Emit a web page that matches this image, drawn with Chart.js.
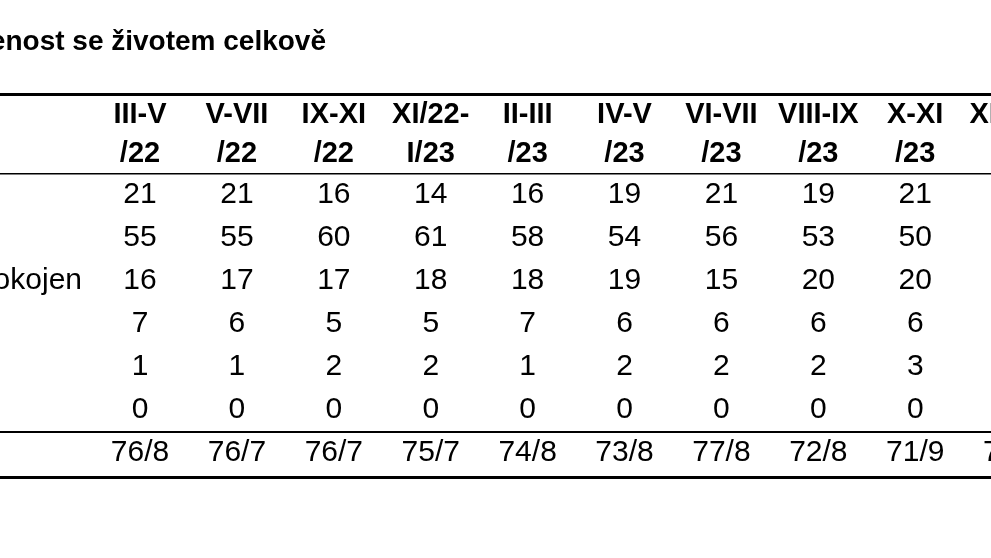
<!DOCTYPE html>
<html>
<head>
<meta charset="utf-8">
<script src="https://cdn.jsdelivr.net/npm/chart.js@4.4.0/dist/chart.umd.min.js"></script>
<style>
  html, body { margin: 0; padding: 0; background: #fff; }
  #box { width: 991px; height: 558px; }
</style>
</head>
<body>
<div id="box"><canvas id="tabulka"></canvas></div>
<script>
// Data tabulky
const titulek = "Spokojenost se životem celkově";
const obdobiRadek1 = ["III-V", "V-VII", "IX-XI", "XI/22-", "II-III", "IV-V", "VI-VII", "VIII-IX", "X-XI", "XII/23-"];
const obdobiRadek2 = ["/22", "/22", "/22", "I/23", "/23", "/23", "/23", "/23", "/23", "/24"];
const radky = ["velmi spokojen", "spíše spokojen", "ani spokojen, ani nespokojen", "spíše nespokojen", "velmi nespokojen", "neví"];
const hodnoty = [
    [21, 21, 16, 14, 16, 19, 21, 19, 21, 20],
    [55, 55, 60, 61, 58, 54, 56, 53, 50, 54],
    [16, 17, 17, 18, 18, 19, 15, 20, 20, 18],
    [7, 6, 5, 5, 7, 6, 6, 6, 6, 6],
    [1, 1, 2, 2, 1, 2, 2, 2, 3, 2],
    [0, 0, 0, 0, 0, 0, 0, 0, 0, 0],
];
const souhrn = ["76/8", "76/7", "76/7", "75/7", "74/8", "73/8", "77/8", "72/8", "71/9", "74/8"];

// Body pro každou buňku (neviditelné, text kreslí plugin)
const body = [];
hodnoty.forEach((r, ri) => r.forEach((v, ci) => body.push({ x: ci, y: ri, v: v })));

const tabulkaPlugin = {
    id: "tabulka",
    afterDraw(chart) {
        const ctx = chart.ctx;
        const sx = chart.scales.x, sy = chart.scales.y;
        const X = (i) => sx.getPixelForValue(i);
        const Y = (i) => sy.getPixelForValue(i);
        ctx.save();
        ctx.fillStyle = "#000";
        ctx.textBaseline = "middle";

        // titulek (useknutý vlevo)
        ctx.font = "bold 28px 'Liberation Sans', Arial, sans-serif";
        ctx.textAlign = "right";
        ctx.fillText(titulek, 326, Y(-3.56));

        // čáry
        const cara = (y, w) => {
            ctx.fillRect(0, Math.round(Y(y) - w / 2), chart.width, w);
        };
        cara(-2.33, 3);
        cara(-0.49, 1.5);
        cara(5.52, 2);
        cara(6.56, 3);

        // záhlaví
        ctx.textAlign = "center";
        ctx.font = "bold 29px 'Liberation Sans', Arial, sans-serif";
        obdobiRadek1.forEach((t, i) => ctx.fillText(t, X(i), Y(-1.86)));
        obdobiRadek2.forEach((t, i) => ctx.fillText(t, X(i), Y(-0.95)));

        // hodnoty
        ctx.font = "30px 'Liberation Sans', Arial, sans-serif";
        chart.data.datasets[0].data.forEach((b) => ctx.fillText(String(b.v), X(b.x), Y(b.y)));
        souhrn.forEach((t, i) => ctx.fillText(t, X(i), Y(6.0)));

        // popisky řádků (useknuté vlevo)
        ctx.textAlign = "right";
        ctx.fillText(radky[2], 82, Y(2));
        ctx.restore();
    },
};

new Chart(document.getElementById("tabulka"), {
    type: "scatter",
    data: {
        datasets: [{ data: body, pointRadius: 0, pointHoverRadius: 0 }],
    },
    options: {
        responsive: true,
        maintainAspectRatio: false,
        animation: false,
        events: [],
        layout: { padding: 0 },
        plugins: { legend: { display: false }, tooltip: { enabled: false } },
        scales: {
            x: { type: "linear", display: false, min: -1.445, max: 8.782 },
            y: { type: "linear", display: false, reverse: true, min: -4.535, max: 8.442 },
        },
    },
    plugins: [tabulkaPlugin],
});
</script>
</body>
</html>
